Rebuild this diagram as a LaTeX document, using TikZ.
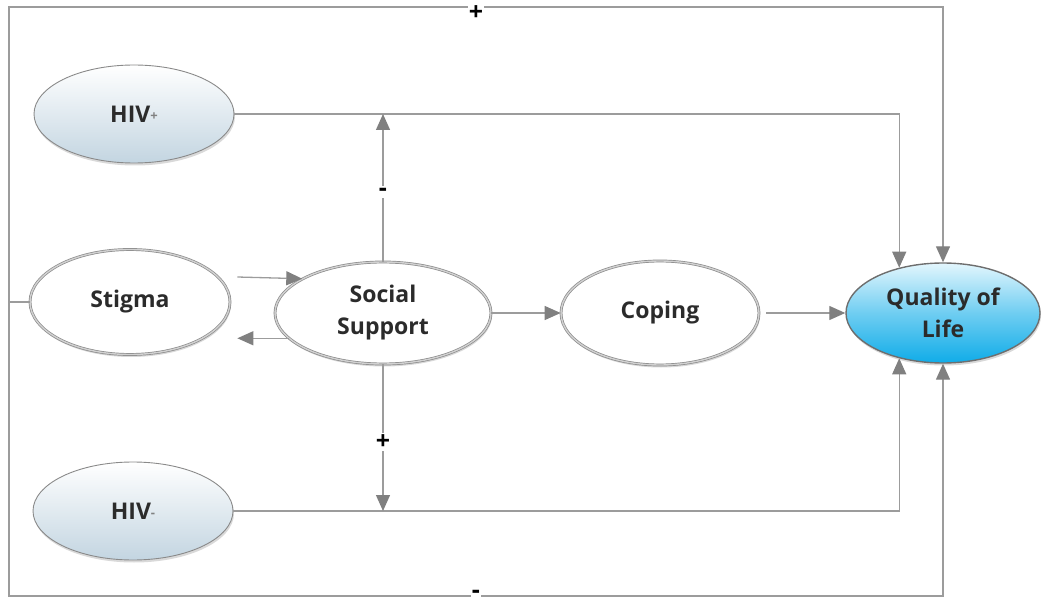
\documentclass[tikz,border=0pt]{standalone}
\usepackage{fontspec}
\setmainfont{Open Sans}
\usetikzlibrary{shapes.geometric,arrows.meta,shadows,calc}
\definecolor{linegray}{HTML}{9C9C9C}
\definecolor{tipgray}{HTML}{808080}
\definecolor{txt}{HTML}{2B2B2B}
\definecolor{hivbot}{HTML}{C3D5E1}
\definecolor{qoltop}{HTML}{E3F6FD}
\definecolor{qolbot}{HTML}{10ACE8}
\definecolor{rim}{HTML}{8A8A8A}
\begin{document}
\begin{tikzpicture}[x=1pt,y=-1pt,
  oval/.style={ellipse, inner sep=0pt, align=center,
    font=\fontsize{23}{32}\selectfont\bfseries, text=txt,
    drop shadow={opacity=0.3, shadow xshift=1pt, shadow yshift=-2.5pt}},
  plainoval/.style={oval, fill=white, draw=rim, line width=0.7pt,
    double=white!82!black, double distance=1.4pt},
  hivoval/.style={oval, draw=rim, line width=0.9pt, top color=white, bottom color=hivbot},
  qoloval/.style={oval, draw=rim!80!black, line width=1.4pt, top color=qoltop, bottom color=qolbot, middle color=qolbot!55!qoltop},
  conn/.style={draw=linegray, line width=1.3pt, -{Triangle[width=14pt,length=16pt,color=tipgray]}},
  lbl/.style={fill=white, inner sep=2pt, text=black, font=\fontsize{25}{25}\selectfont\bfseries}
]
\useasboundingbox (0,0) rectangle (1045,604);

% nodes
\node[hivoval, minimum width=200pt, minimum height=98pt] (hivp) at (134,114)
  {HIV{\fontsize{13}{13}\selectfont\color{gray}\raisebox{2pt}{+}}};
\node[plainoval, minimum width=200pt, minimum height=105pt] (stigma) at (130,302) {Stigma};
\node[hivoval, minimum width=200pt, minimum height=98pt] (hivm) at (133,511)
  {HIV{\fontsize{13}{13}\selectfont\color{gray}\raisebox{2pt}{-}}};
\node[plainoval, minimum width=216pt, minimum height=102pt] (ss) at (383,313) {Social\\Support};
\node[plainoval, minimum width=198pt, minimum height=104pt] (coping) at (660,313) {Coping};
\node[qoloval, minimum width=194pt, minimum height=100pt] (qol) at (943,313) {Quality of\\Life};

\coordinate (tl) at (9,7);
\coordinate (bl) at (9,596);

% outer frame connectors
\draw[conn] (stigma.west) -| (tl) -| (qol.north);
\draw[conn] (stigma.west) -| (bl) -| (qol.south);
\node[lbl, inner sep=1pt] (plustop) at (476,13) {+};
\node[lbl, inner sep=1pt] (minusbot) at (476,594) {-};

% HIV lines
\draw[conn] (hivp.east) -| (qol.134);
\draw[conn] (hivm.east) -| (qol.226);

% moderation arrows
\draw[conn] (ss.north) -- (ss.north |- hivp.east);
\draw[conn] (ss.south) -- (ss.south |- hivm.east);
\node[lbl] (minusmod) at (383,192) {-};
\node[lbl] (plusmod) at (383,442) {+};

% main chain
\draw[conn] ($(stigma.east)+(7,-25)$) -- (ss.157);
\draw[conn] (ss.195) -- ($(ss.195 -| stigma.east)+(7,0)$);
\draw[conn] (ss.east) -- (coping.west);
\draw[conn] ($(coping.east)+(7,0)$) -- (qol.west);
\end{tikzpicture}
\end{document}
